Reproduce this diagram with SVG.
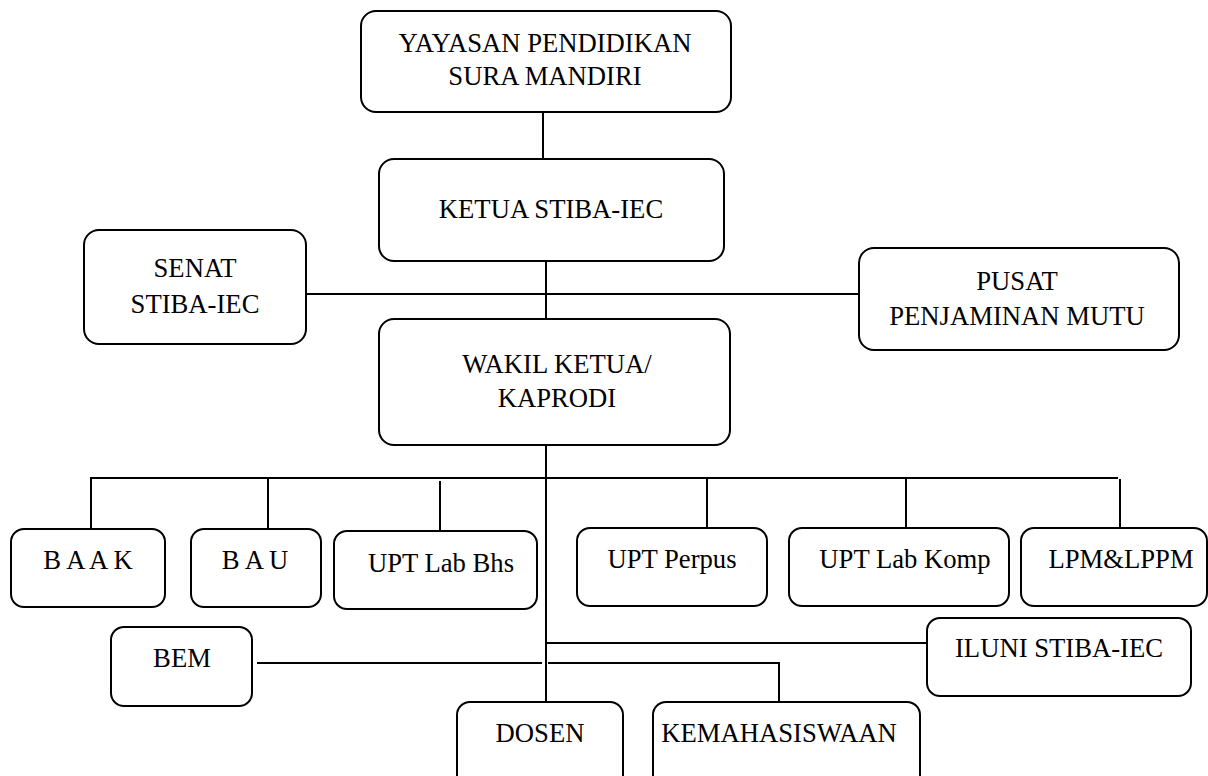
<svg xmlns="http://www.w3.org/2000/svg" width="1208" height="776" viewBox="0 0 1208 776">
<style>
.box{fill:#fff;stroke:#000;stroke-width:2}
.t{font-family:"Liberation Serif","Times New Roman",serif;font-size:26.67px;fill:#000;text-anchor:middle}
.c{stroke:#000;stroke-width:2;fill:none}
</style>
<rect width="1208" height="776" fill="#fff"/>
<g id="connectors">
<line class="c" x1="543" y1="112" x2="543" y2="159"/>
<line class="c" x1="546" y1="261" x2="546" y2="319"/>
<line class="c" x1="306" y1="294" x2="859" y2="294"/>
<line class="c" x1="546" y1="445" x2="546" y2="702"/>
<line class="c" x1="90" y1="478" x2="1118" y2="478"/>
<line class="c" x1="91" y1="477" x2="91" y2="529"/>
<line class="c" x1="268" y1="478" x2="268" y2="529"/>
<line class="c" x1="440" y1="481" x2="440" y2="531"/>
<line class="c" x1="707" y1="478" x2="707" y2="528"/>
<line class="c" x1="906" y1="478" x2="906" y2="528"/>
<line class="c" x1="1120" y1="479" x2="1120" y2="532"/>
<line class="c" x1="546" y1="643" x2="927" y2="643"/>
<line class="c" x1="257" y1="663" x2="542" y2="663"/>
<line class="c" x1="548" y1="663" x2="780" y2="663"/>
<line class="c" x1="779" y1="663" x2="779" y2="702"/>
</g>
<g id="yayasan"><rect class="box" x="361" y="11" width="370" height="101" rx="15"/><text class="t" x="545" y="52">YAYASAN PENDIDIKAN</text><text class="t" x="545" y="85">SURA MANDIRI</text></g>
<g id="ketua"><rect class="box" x="379" y="159" width="345" height="102" rx="15"/><text class="t" x="551" y="218">KETUA STIBA-IEC</text></g>
<g id="senat"><rect class="box" x="84" y="230" width="222" height="114" rx="15"/><text class="t" x="195" y="277">SENAT</text><text class="t" x="195" y="313">STIBA-IEC</text></g>
<g id="pusat"><rect class="box" x="859" y="248" width="320" height="102" rx="15"/><text class="t" x="1017" y="290">PUSAT</text><text class="t" x="1017" y="325">PENJAMINAN MUTU</text></g>
<g id="wakil"><rect class="box" x="379" y="319" width="351" height="126" rx="15"/><text class="t" x="557" y="373">WAKIL KETUA/</text><text class="t" x="557" y="407">KAPRODI</text></g>
<g id="baak"><rect class="box" x="11" y="529" width="154" height="78" rx="13"/><text class="t" x="88" y="569">B A A K</text></g>
<g id="bau"><rect class="box" x="191" y="529" width="130" height="78" rx="13"/><text class="t" x="255" y="569">B A U</text></g>
<g id="uptlabbhs"><rect class="box" x="334" y="531" width="203" height="78" rx="13"/><text class="t" x="441" y="572">UPT Lab Bhs</text></g>
<g id="uptperpus"><rect class="box" x="577" y="528" width="190" height="78" rx="13"/><text class="t" x="672" y="568">UPT Perpus</text></g>
<g id="uptlabkomp"><rect class="box" x="789" y="528" width="220" height="78" rx="13"/><text class="t" x="905" y="568">UPT Lab Komp</text></g>
<g id="lpm"><rect class="box" x="1021" y="528" width="186" height="78" rx="13"/><text class="t" x="1121" y="568">LPM&amp;LPPM</text></g>
<g id="iluni"><rect class="box" x="927" y="618" width="264" height="78" rx="13"/><text class="t" x="1059" y="657">ILUNI STIBA-IEC</text></g>
<g id="bem"><rect class="box" x="111" y="627" width="141" height="79" rx="13"/><text class="t" x="182" y="667">BEM</text></g>
<g id="dosen"><rect class="box" x="457" y="702" width="166" height="90" rx="13"/><text class="t" x="540" y="742">DOSEN</text></g>
<g id="kemahasiswaan"><rect class="box" x="653" y="702" width="267" height="90" rx="13"/><text class="t" x="779" y="742">KEMAHASISWAAN</text></g>
</svg>
